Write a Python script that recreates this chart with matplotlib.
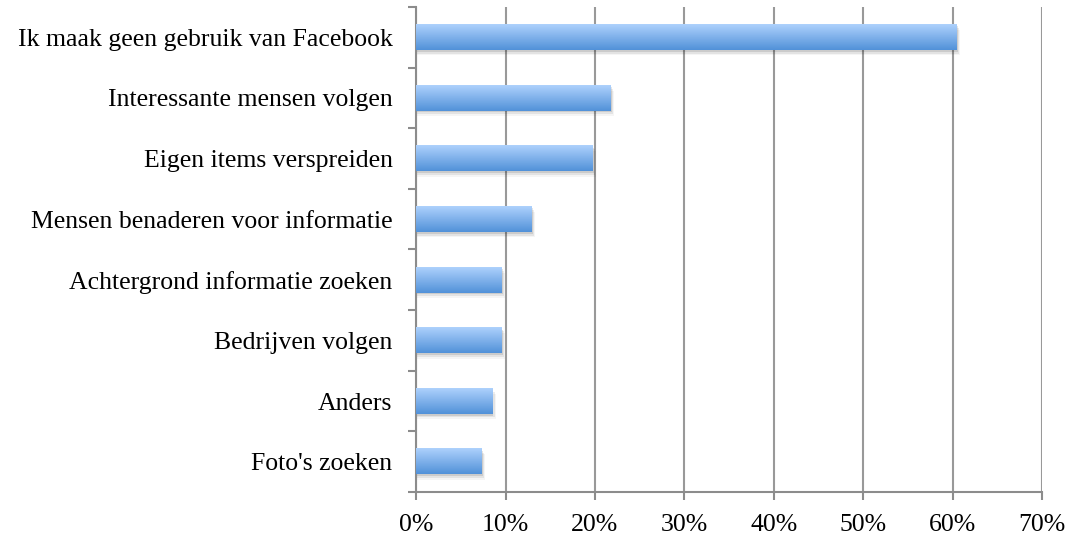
import numpy as np
import matplotlib.pyplot as plt
from matplotlib.patches import Rectangle
from matplotlib.ticker import FixedLocator, PercentFormatter

# survey answers, top to bottom
labels = ["Ik maak geen gebruik van Facebook", "Interessante mensen volgen",
          "Eigen items verspreiden", "Mensen benaderen voor informatie",
          "Achtergrond informatie zoeken", "Bedrijven volgen", "Anders",
          "Foto's zoeken"]
values = [60.4, 21.7, 19.7, 12.9, 9.6, 9.6, 8.5, 7.3]

plt.rcParams['font.family'] = ['Liberation Serif', 'DejaVu Serif']

fig = plt.figure(figsize=(10.67, 5.37), dpi=100)
ax = fig.add_axes([0.390, 0.0838, 0.5866, 0.9032])

n = len(labels)
ypos = np.arange(n)[::-1]
h = 0.42

# gradient for the bars: light on top, darker at bottom
grad = np.linspace(0, 1, 64).reshape(-1, 1)
top_c = np.array([0.68, 0.82, 0.99])
bot_c = np.array([0.32, 0.57, 0.85])
img = top_c + (bot_c - top_c) * grad
img = img.reshape(64, 1, 3)

for y, v in zip(ypos, values):
    # soft shadow
    for k, a in enumerate([0.10, 0.07, 0.04]):
        off = 0.15 + 0.12 * k
        ax.add_patch(Rectangle((0, y - h / 2 - 0.03 - 0.03 * k), v + off, h,
                               facecolor="black", alpha=a, lw=0, zorder=2))
    ax.imshow(img, extent=(0, v, y - h / 2, y + h / 2), aspect="auto",
              origin="upper", zorder=3, interpolation="bilinear")

ax.set_xlim(0, 70)
ax.set_ylim(-0.5, n - 0.5)
ax.set_xticks(np.arange(0, 71, 10))
ax.xaxis.set_major_formatter(PercentFormatter(decimals=0))
ax.set_yticks(ypos)
ax.set_yticklabels(labels)
ax.yaxis.set_minor_locator(FixedLocator(np.arange(-0.5, n, 1)))

ax.grid(axis="x", color="#999999", lw=1.5, zorder=1)
ax.set_axisbelow(True)
for s in ["top", "right"]:
    ax.spines[s].set_visible(False)
for s in ["left", "bottom"]:
    ax.spines[s].set_color("#8c8c8c")
    ax.spines[s].set_linewidth(1.5)

ax.tick_params(axis="y", which="major", length=0, pad=17, labelsize=18.5)
ax.tick_params(axis="y", which="minor", length=6, color="#8c8c8c", width=1.5)
ax.tick_params(axis="x", length=6, color="#8c8c8c", width=1.5, labelsize=18.5, pad=10)

fig.savefig("out.png", dpi=100)
